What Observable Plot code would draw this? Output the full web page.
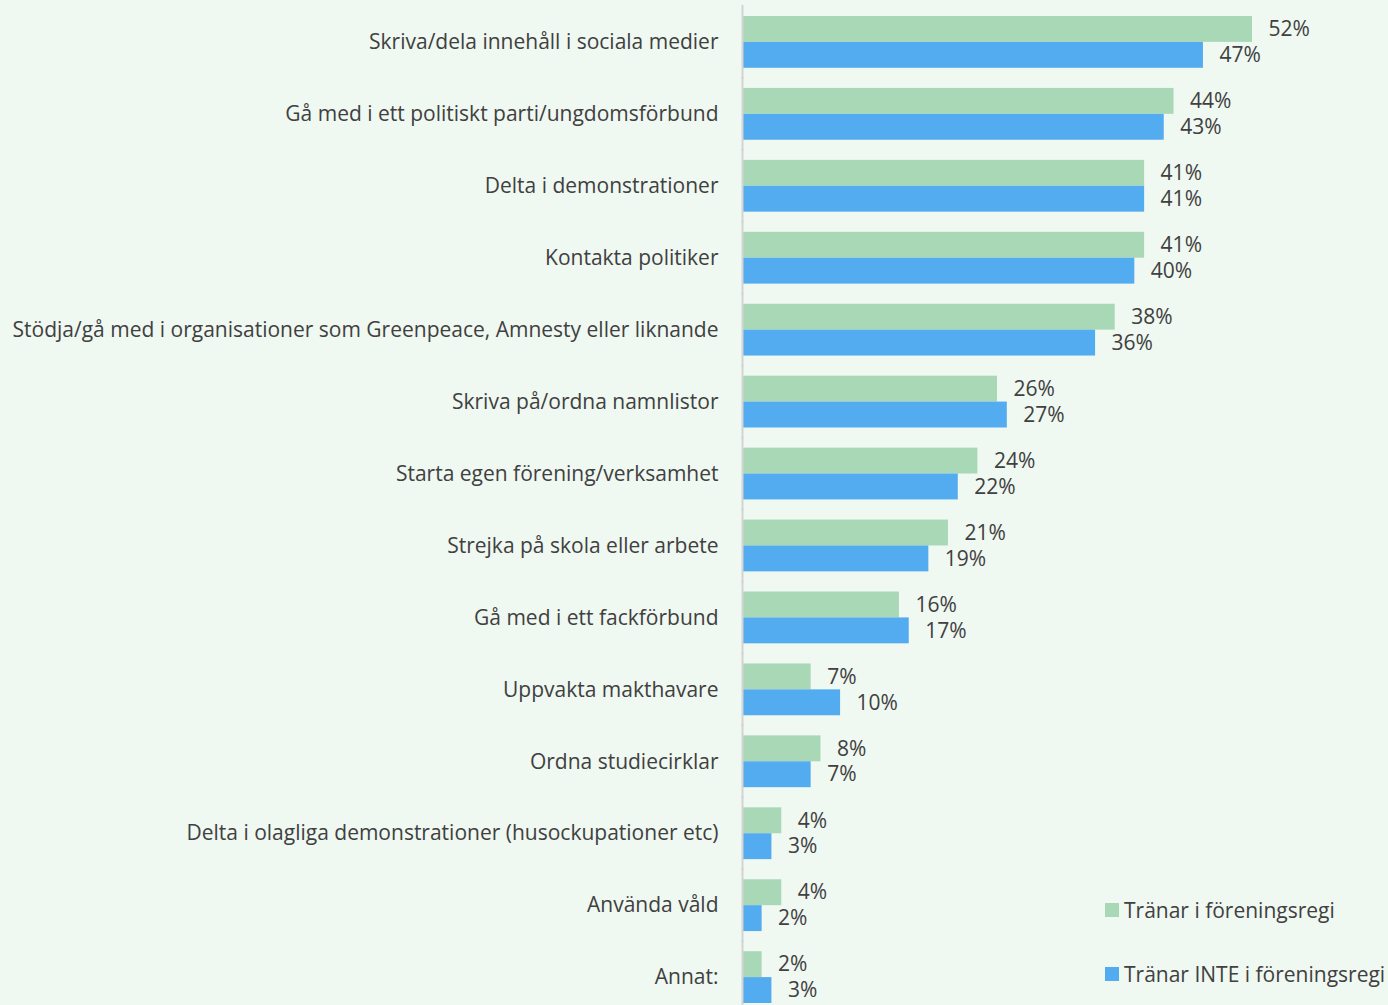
<!DOCTYPE html>
<html>
<head>
<meta charset="utf-8">
<script src="https://cdn.jsdelivr.net/npm/d3@7"></script>
<script src="https://cdn.jsdelivr.net/npm/@observablehq/plot@0.6"></script>
<style>
  html, body { margin: 0; padding: 0; background: #eff8f1; }
  #wrap { position: relative; width: 1388px; height: 1005px; overflow: hidden; }
  #legend { position: absolute; left: 1105px; top: 896px; font-family: "Open Sans", Lato, sans-serif; font-size: 21px; color: #404040; }
  .item { display: flex; align-items: center; height: 28px; margin-bottom: 36px; white-space: nowrap; }
  .sw { width: 14px; height: 14px; margin-right: 5px; }
</style>
</head>
<body>
<div id="wrap"></div>
<script>
const categories = [
  "Skriva/dela innehåll i sociala medier",
  "Gå med i ett politiskt parti/ungdomsförbund",
  "Delta i demonstrationer",
  "Kontakta politiker",
  "Stödja/gå med i organisationer som Greenpeace, Amnesty eller liknande",
  "Skriva på/ordna namnlistor",
  "Starta egen förening/verksamhet",
  "Strejka på skola eller arbete",
  "Gå med i ett fackförbund",
  "Uppvakta makthavare",
  "Ordna studiecirklar",
  "Delta i olagliga demonstrationer (husockupationer etc)",
  "Använda våld",
  "Annat:"
];
const seriesNames = ["Tränar i föreningsregi", "Tränar INTE i föreningsregi"];
const seriesColors = ["#a9d8b7", "#53abf0"];
const tranar = [52, 44, 41, 41, 38, 26, 24, 21, 16, 7, 8, 4, 4, 2];
const tranarInte = [47, 43, 41, 40, 36, 27, 22, 19, 17, 10, 7, 3, 2, 3];

const rows = [];
categories.forEach((c, i) => {
  rows.push({cat: c, series: seriesNames[0], value: tranar[i]});
  rows.push({cat: c, series: seriesNames[1], value: tranarInte[i]});
});

const chart = Plot.plot({
  width: 1388,
  height: 1005,
  marginLeft: 742,
  marginRight: 0,
  marginTop: 0,
  marginBottom: 0,
  style: {background: "transparent", fontFamily: "'Open Sans', Lato, sans-serif", fontSize: "21px", color: "#404040", overflow: "visible"},
  facet: {data: rows, y: "cat", marginTop: 0, marginBottom: 0, marginLeft: 0, marginRight: 0},
  fy: {domain: categories, axis: "left", label: null, tickSize: 0, tickPadding: 24, paddingInner: 0.28, paddingOuter: 0.125, align: 0.889, round: false},
  x: {domain: [0, 52], range: [742, 1252], axis: null},
  y: {domain: seriesNames, axis: null, padding: 0, round: false},
  color: {domain: seriesNames, range: seriesColors},
  marks: [
    Plot.barX(rows, {x: "value", y: "series", fill: "series"}),
    Plot.text(rows, {x: "value", y: "series", text: d => d.value + "%", dx: 16, textAnchor: "start", fill: "#404040"}),
    Plot.ruleX([0], {stroke: "#d4d4d4", strokeWidth: 2, insetTop: -11, insetBottom: -11})
  ]
});
document.getElementById("wrap").appendChild(chart);

const legend = document.createElement("div");
legend.id = "legend";
seriesNames.forEach((s, i) => {
  const item = document.createElement("div");
  item.className = "item";
  const sw = document.createElement("div");
  sw.className = "sw";
  sw.style.background = seriesColors[i];
  const t = document.createElement("span");
  t.textContent = s;
  item.appendChild(sw);
  item.appendChild(t);
  legend.appendChild(item);
});
document.getElementById("wrap").appendChild(legend);
</script>
</body>
</html>
